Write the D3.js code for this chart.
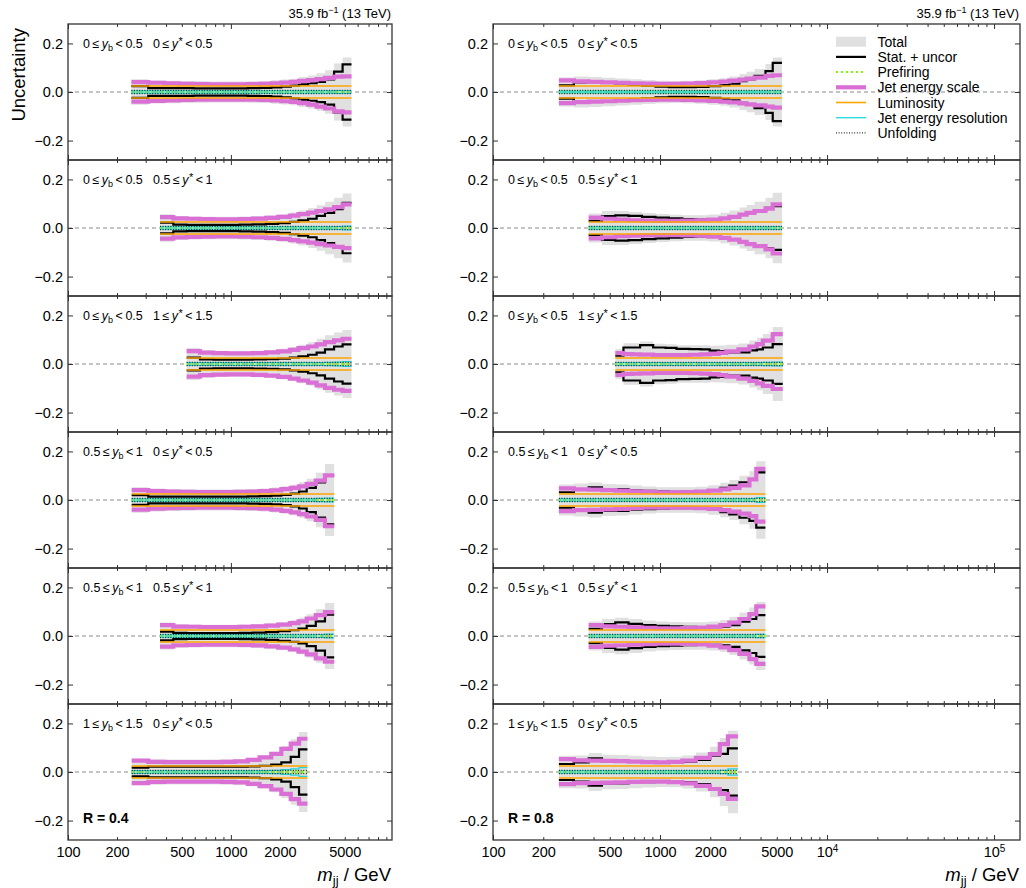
<!DOCTYPE html>
<html><head><meta charset="utf-8">
<script src="https://cdn.jsdelivr.net/npm/d3@7"></script>
<style>
body{margin:0;background:#fff}
svg{display:block}
text{font-family:"Liberation Sans",Arial,Helvetica,sans-serif;fill:#000}
</style>
</head><body>
<svg id="c" width="1026" height="888"></svg>
<script>
// ---------------- DATA ----------------
const lumiUnc = 0.025, unfoldUnc = 0.007, prefireUnc = 0.003;
const ybRanges    = [["0","0.5"],["0","0.5"],["0","0.5"],["0.5","1"],["0.5","1"],["1","1.5"]];
const ystarRanges = [["0","0.5"],["0.5","1"],["1","1.5"],["0","0.5"],["0.5","1"],["0","0.5"]];
const legendLabels = ["Total","Stat. + uncor","Prefiring","Jet energy scale","Luminosity","Jet energy resolution","Unfolding"];
const xTickLabelsLeft  = [100,200,500,1000,2000,5000];
const xTickLabelsRight = [100,200,500,1000,2000,5000,10000,100000];
const yTickVals = [-0.2,0,0.2];

// R = 0.4 (left column)
const edgesL1 = [245,311,390,480,590,720,880,1060,1270,1500,1770,2040,2330,2620,2980,3360,3780,4300,4850,5500];
const statL1  = [0.024,0.016,0.016,0.016,0.015,0.015,0.015,0.015,0.016,0.017,0.019,0.022,0.026,0.031,0.036,0.042,0.052,0.084,0.114];
const jesUpL1 = [0.041,0.038,0.036,0.034,0.033,0.032,0.032,0.032,0.033,0.034,0.036,0.039,0.042,0.046,0.049,0.053,0.058,0.063,0.064];
const jesDnL1 = [-0.040,-0.037,-0.035,-0.033,-0.032,-0.031,-0.031,-0.031,-0.032,-0.033,-0.035,-0.038,-0.041,-0.046,-0.052,-0.060,-0.068,-0.080,-0.084];
const totalL1 = [0.053,0.047,0.046,0.045,0.044,0.043,0.043,0.043,0.044,0.045,0.048,0.051,0.055,0.062,0.068,0.077,0.090,0.117,0.142];
const jerL1   = [0.005,0.005,0.005,0.005,0.005,0.005,0.005,0.005,0.005,0.005,0.005,0.005,0.005,0.005,0.005,0.005,0.005,0.006,0.006];

const edgesL2 = [367,443,535,646,780,940,1130,1360,1640,1950,2300,2600,2980,3360,3780,4300,4850,5500];
const statL2  = [0.022,0.014,0.013,0.013,0.013,0.013,0.014,0.015,0.017,0.020,0.025,0.031,0.038,0.050,0.062,0.078,0.104];
const jesUpL2 = [0.045,0.040,0.038,0.037,0.036,0.036,0.037,0.039,0.042,0.046,0.051,0.057,0.063,0.070,0.077,0.086,0.097];
const jesDnL2 = [-0.044,-0.039,-0.037,-0.036,-0.035,-0.035,-0.036,-0.038,-0.041,-0.045,-0.050,-0.055,-0.060,-0.066,-0.072,-0.078,-0.083];
const totalL2 = [0.057,0.049,0.047,0.046,0.046,0.046,0.047,0.049,0.052,0.057,0.064,0.072,0.082,0.094,0.108,0.125,0.142];
const jerL2   = [0.005,0.005,0.005,0.005,0.005,0.005,0.005,0.005,0.005,0.005,0.005,0.005,0.005,0.005,0.005,0.006,0.008];

const edgesL3 = [535,646,780,940,1130,1360,1640,1950,2300,2600,2980,3360,3780,4300,4850,5500];
const statL3  = [0.026,0.019,0.018,0.018,0.018,0.019,0.020,0.022,0.026,0.031,0.038,0.047,0.060,0.072,0.081];
const jesUpL3 = [0.053,0.047,0.045,0.044,0.044,0.045,0.048,0.052,0.058,0.065,0.072,0.081,0.090,0.097,0.104];
const jesDnL3 = [-0.052,-0.046,-0.044,-0.043,-0.043,-0.045,-0.048,-0.053,-0.060,-0.068,-0.077,-0.088,-0.098,-0.106,-0.111];
const totalL3 = [0.066,0.057,0.054,0.053,0.053,0.055,0.058,0.063,0.070,0.079,0.090,0.104,0.118,0.130,0.140];
const jerL3   = [0.006,0.006,0.006,0.006,0.006,0.006,0.006,0.006,0.006,0.006,0.006,0.006,0.007,0.008,0.010];

const edgesL4 = [246,311,390,480,590,720,880,1060,1270,1500,1770,2040,2330,2620,2920,3320,3780,4306];
const statL4  = [0.020,0.014,0.014,0.014,0.014,0.014,0.014,0.014,0.015,0.016,0.018,0.021,0.026,0.035,0.050,0.072,0.100];
const jesUpL4 = [0.041,0.037,0.035,0.034,0.033,0.033,0.033,0.034,0.035,0.037,0.040,0.045,0.050,0.056,0.066,0.080,0.101];
const jesDnL4 = [-0.040,-0.036,-0.034,-0.033,-0.032,-0.032,-0.032,-0.033,-0.034,-0.036,-0.040,-0.045,-0.051,-0.058,-0.068,-0.082,-0.108];
const totalL4 = [0.053,0.047,0.045,0.044,0.043,0.043,0.043,0.044,0.045,0.047,0.051,0.057,0.063,0.073,0.088,0.112,0.148];
const jerL4   = [0.005,0.005,0.005,0.005,0.005,0.005,0.005,0.005,0.005,0.005,0.005,0.005,0.005,0.005,0.005,0.007,0.008];

const edgesL5 = [367,443,535,646,780,940,1130,1360,1640,1950,2300,2600,2920,3320,3780,4306];
const statL5  = [0.018,0.013,0.012,0.012,0.012,0.012,0.013,0.014,0.016,0.020,0.024,0.030,0.042,0.060,0.088];
const jesUpL5 = [0.045,0.039,0.038,0.037,0.037,0.037,0.038,0.040,0.043,0.047,0.053,0.060,0.072,0.086,0.098];
const jesDnL5 = [-0.044,-0.038,-0.037,-0.036,-0.036,-0.036,-0.037,-0.039,-0.043,-0.048,-0.055,-0.064,-0.076,-0.092,-0.106];
const totalL5 = [0.056,0.048,0.047,0.046,0.046,0.046,0.047,0.049,0.053,0.058,0.065,0.075,0.090,0.110,0.136];
const jerL5   = [0.005,0.005,0.005,0.005,0.005,0.005,0.005,0.005,0.005,0.005,0.005,0.005,0.005,0.006,0.008];

const edgesL6 = [246,311,390,480,590,720,880,1060,1270,1500,1770,2040,2330,2620,2950];
const statL6  = [0.018,0.022,0.022,0.022,0.022,0.022,0.022,0.022,0.023,0.025,0.030,0.040,0.062,0.093];
const jesUpL6 = [0.047,0.042,0.041,0.041,0.041,0.041,0.042,0.044,0.050,0.060,0.075,0.095,0.117,0.137];
const jesDnL6 = [-0.046,-0.041,-0.040,-0.040,-0.040,-0.040,-0.041,-0.043,-0.049,-0.058,-0.072,-0.090,-0.112,-0.130];
const totalL6 = [0.055,0.052,0.051,0.051,0.051,0.051,0.052,0.054,0.059,0.068,0.083,0.107,0.135,0.165];
const jerL6   = [0.006,0.005,0.005,0.005,0.005,0.005,0.005,0.005,0.005,0.006,0.007,0.010,0.013,0.018];

// R = 0.8 (right column)
const edgesR1 = [248,305,374,449,540,648,780,940,1130,1360,1640,1950,2300,2600,2990,3300,3680,4280,4730,5370];
const statR1  = [0.027,0.040,0.040,0.038,0.035,0.030,0.026,0.022,0.020,0.020,0.021,0.024,0.028,0.034,0.045,0.052,0.066,0.086,0.120];
const jesUpR1 = [0.048,0.044,0.042,0.040,0.038,0.036,0.035,0.034,0.034,0.035,0.037,0.040,0.043,0.047,0.051,0.055,0.059,0.066,0.069];
const jesDnR1 = [-0.046,-0.042,-0.040,-0.038,-0.036,-0.034,-0.033,-0.032,-0.032,-0.033,-0.035,-0.037,-0.040,-0.043,-0.047,-0.051,-0.055,-0.060,-0.064];
const totalR1 = [0.060,0.064,0.062,0.059,0.056,0.052,0.049,0.046,0.045,0.046,0.048,0.052,0.057,0.064,0.074,0.083,0.095,0.115,0.142];
const jerR1   = [0.004,0.004,0.004,0.004,0.004,0.004,0.004,0.004,0.004,0.004,0.004,0.004,0.004,0.004,0.004,0.004,0.004,0.005,0.005];

const edgesR2 = [374,449,540,648,780,940,1130,1360,1640,1950,2300,2600,2990,3300,3680,4280,4730,5370];
const statR2  = [0.029,0.049,0.052,0.050,0.046,0.043,0.040,0.037,0.035,0.036,0.040,0.047,0.056,0.063,0.072,0.083,0.090];
const jesUpR2 = [0.043,0.038,0.035,0.032,0.030,0.029,0.029,0.030,0.032,0.035,0.040,0.046,0.055,0.062,0.070,0.080,0.097];
const jesDnR2 = [-0.043,-0.038,-0.034,-0.032,-0.030,-0.029,-0.029,-0.030,-0.032,-0.036,-0.041,-0.048,-0.057,-0.066,-0.075,-0.088,-0.105];
const totalR2 = [0.060,0.070,0.070,0.066,0.062,0.058,0.055,0.053,0.053,0.056,0.063,0.072,0.084,0.095,0.108,0.125,0.145];
const jerR2   = [0.005,0.005,0.005,0.005,0.005,0.005,0.005,0.005,0.005,0.005,0.005,0.005,0.005,0.005,0.005,0.005,0.006];

const edgesR3 = [540,604,680,760,910,1080,1255,1500,1750,1985,2250,2494,2950,3430,3800,4128,4728,5430];
const statR3  = [0.034,0.068,0.068,0.078,0.068,0.066,0.062,0.061,0.060,0.055,0.053,0.048,0.048,0.056,0.060,0.068,0.082];
const jesUpR3 = [0.045,0.041,0.040,0.039,0.037,0.037,0.037,0.038,0.040,0.042,0.046,0.052,0.060,0.072,0.082,0.096,0.123];
const jesDnR3 = [-0.045,-0.041,-0.040,-0.039,-0.037,-0.037,-0.037,-0.038,-0.040,-0.042,-0.046,-0.052,-0.060,-0.070,-0.080,-0.090,-0.103];
const totalR3 = [0.062,0.085,0.085,0.093,0.083,0.081,0.077,0.077,0.077,0.075,0.076,0.079,0.084,0.097,0.108,0.124,0.152];
const jerR3   = [0.006,0.006,0.006,0.006,0.006,0.006,0.006,0.006,0.006,0.006,0.006,0.006,0.006,0.006,0.006,0.007,0.008];

const edgesR4 = [248,305,374,449,540,648,780,940,1130,1360,1640,1950,2300,2600,2990,3430,3770,4276];
const statR4  = [0.032,0.045,0.052,0.045,0.045,0.040,0.038,0.036,0.034,0.034,0.035,0.040,0.050,0.059,0.073,0.086,0.114];
const jesUpR4 = [0.048,0.044,0.043,0.041,0.039,0.036,0.034,0.032,0.032,0.033,0.035,0.039,0.044,0.050,0.060,0.085,0.128];
const jesDnR4 = [-0.046,-0.042,-0.041,-0.039,-0.037,-0.034,-0.032,-0.031,-0.031,-0.032,-0.034,-0.037,-0.042,-0.048,-0.056,-0.066,-0.089];
const totalR4 = [0.064,0.068,0.072,0.066,0.064,0.060,0.056,0.053,0.052,0.053,0.055,0.061,0.071,0.082,0.100,0.118,0.160];
const jerR4   = [0.005,0.005,0.005,0.005,0.005,0.005,0.005,0.005,0.005,0.005,0.005,0.005,0.005,0.005,0.005,0.006,0.010];

const edgesR5 = [374,449,540,648,780,940,1130,1360,1640,1950,2300,2600,2990,3430,3770,4276];
const statR5  = [0.029,0.049,0.056,0.050,0.045,0.042,0.040,0.038,0.036,0.036,0.038,0.045,0.059,0.070,0.086];
const jesUpR5 = [0.045,0.040,0.038,0.036,0.034,0.032,0.032,0.033,0.035,0.039,0.045,0.055,0.070,0.090,0.122];
const jesDnR5 = [-0.045,-0.040,-0.038,-0.036,-0.034,-0.032,-0.032,-0.033,-0.035,-0.040,-0.047,-0.058,-0.074,-0.095,-0.115];
const totalR5 = [0.060,0.070,0.075,0.070,0.064,0.060,0.058,0.057,0.057,0.060,0.066,0.078,0.097,0.117,0.140];
const jerR5   = [0.005,0.005,0.005,0.005,0.005,0.005,0.005,0.005,0.005,0.005,0.005,0.005,0.005,0.005,0.007];

const edgesR6 = [248,305,374,449,540,648,780,940,1130,1360,1640,1990,2280,2550,2926];
const statR6  = [0.033,0.040,0.056,0.047,0.047,0.045,0.042,0.040,0.040,0.042,0.050,0.067,0.075,0.097];
const jesUpR6 = [0.053,0.048,0.047,0.046,0.045,0.043,0.041,0.040,0.042,0.047,0.058,0.074,0.115,0.147];
const jesDnR6 = [-0.050,-0.046,-0.045,-0.044,-0.043,-0.041,-0.040,-0.040,-0.042,-0.047,-0.057,-0.070,-0.090,-0.111];
const totalR6 = [0.067,0.068,0.078,0.071,0.070,0.067,0.064,0.062,0.063,0.068,0.080,0.104,0.140,0.170];
const jerR6   = [0.005,0.005,0.005,0.005,0.005,0.005,0.005,0.005,0.005,0.005,0.005,0.005,0.007,0.013];

// ---------------- LAYOUT ----------------
const panels = [
  {col:0,row:0,edges:edgesL1,stat:statL1,jesUp:jesUpL1,jesDn:jesDnL1,total:totalL1,jer:jerL1},
  {col:0,row:1,edges:edgesL2,stat:statL2,jesUp:jesUpL2,jesDn:jesDnL2,total:totalL2,jer:jerL2},
  {col:0,row:2,edges:edgesL3,stat:statL3,jesUp:jesUpL3,jesDn:jesDnL3,total:totalL3,jer:jerL3},
  {col:0,row:3,edges:edgesL4,stat:statL4,jesUp:jesUpL4,jesDn:jesDnL4,total:totalL4,jer:jerL4},
  {col:0,row:4,edges:edgesL5,stat:statL5,jesUp:jesUpL5,jesDn:jesDnL5,total:totalL5,jer:jerL5},
  {col:0,row:5,edges:edgesL6,stat:statL6,jesUp:jesUpL6,jesDn:jesDnL6,total:totalL6,jer:jerL6},
  {col:1,row:0,edges:edgesR1,stat:statR1,jesUp:jesUpR1,jesDn:jesDnR1,total:totalR1,jer:jerR1},
  {col:1,row:1,edges:edgesR2,stat:statR2,jesUp:jesUpR2,jesDn:jesDnR2,total:totalR2,jer:jerR2},
  {col:1,row:2,edges:edgesR3,stat:statR3,jesUp:jesUpR3,jesDn:jesDnR3,total:totalR3,jer:jerR3},
  {col:1,row:3,edges:edgesR4,stat:statR4,jesUp:jesUpR4,jesDn:jesDnR4,total:totalR4,jer:jerR4},
  {col:1,row:4,edges:edgesR5,stat:statR5,jesUp:jesUpR5,jesDn:jesDnR5,total:totalR5,jer:jerR5},
  {col:1,row:5,edges:edgesR6,stat:statR6,jesUp:jesUpR6,jesDn:jesDnR6,total:totalR6,jer:jerR6}
];

const cols = [
  {x0:68, x1:392, dom:[100, 9750], ticksLab:xTickLabelsLeft, R:"R = 0.4"},
  {x0:493, x1:1020, dom:[100, 143000], ticksLab:xTickLabelsRight, R:"R = 0.8"}
];
const TOP = 24, PH = 136, NROW = 6;
const FONT = '"Liberation Sans",Arial,Helvetica,sans-serif';

const C = {
  total:"#e0e0e0", stat:"#000000", pref:"#7cfc00", jes:"#da70d6",
  lumi:"#ffa500", jer:"#1fd8d8", unf:"#000000", frame:"#333333", zero:"#8a8a8a"
};

const svg = d3.select("#c");
const defs = svg.append("defs");

cols.forEach(c => { c.x = d3.scaleLog().domain(c.dom).range([c.x0, c.x1]); });

function stepPts(edges, vals, sign) {
  return edges.map((e,i) => [e, sign * vals[Math.min(i, vals.length-1)]]);
}
function constPts(edges, v) { return edges.map(e => [e, v]); }

panels.forEach((p, idx) => {
  const c = cols[p.col];
  const x = c.x;
  const yTop = TOP + PH*p.row, yBot = yTop + PH;
  const y = d3.scaleLinear().domain([-0.28, 0.28]).range([yBot, yTop]);
  const clipId = "clip" + idx;
  defs.append("clipPath").attr("id", clipId).append("rect")
      .attr("x", c.x0).attr("y", yTop).attr("width", c.x1-c.x0).attr("height", PH);
  const g = svg.append("g").attr("clip-path", `url(#${clipId})`);

  const line = d3.line().x(d => x(d[0])).y(d => y(d[1])).curve(d3.curveStepAfter);
  const area = d3.area().x(d => x(d[0])).y0(d => y(-d[1])).y1(d => y(d[1])).curve(d3.curveStepAfter);

  // total band
  g.append("path").datum(stepPts(p.edges, p.total, 1)).attr("d", area).attr("fill", C.total);
  // zero line
  g.append("line").attr("x1", c.x0).attr("x2", c.x1).attr("y1", y(0)).attr("y2", y(0))
    .attr("stroke", C.zero).attr("stroke-width", 1.2).attr("stroke-dasharray", "4,3");
  // stat
  [1,-1].forEach(s => g.append("path").datum(stepPts(p.edges, p.stat, s)).attr("d", line)
    .attr("fill","none").attr("stroke", C.stat).attr("stroke-width", 2.2));
  // prefiring
  [1,-1].forEach(s => g.append("path").datum(constPts(p.edges, s*prefireUnc)).attr("d", line)
    .attr("fill","none").attr("stroke", C.pref).attr("stroke-width", 2).attr("stroke-dasharray","2,3"));
  // JES
  g.append("path").datum(stepPts(p.edges, p.jesUp, 1)).attr("d", line)
    .attr("fill","none").attr("stroke", C.jes).attr("stroke-width", 4.2);
  g.append("path").datum(stepPts(p.edges, p.jesDn, 1)).attr("d", line)
    .attr("fill","none").attr("stroke", C.jes).attr("stroke-width", 4.2);
  // luminosity
  [1,-1].forEach(s => g.append("path").datum(constPts(p.edges, s*lumiUnc)).attr("d", line)
    .attr("fill","none").attr("stroke", C.lumi).attr("stroke-width", 1.6));
  // JER
  [1,-1].forEach(s => g.append("path").datum(stepPts(p.edges, p.jer, s)).attr("d", line)
    .attr("fill","none").attr("stroke", C.jer).attr("stroke-width", 1.3));
  // unfolding
  [1,-1].forEach(s => g.append("path").datum(constPts(p.edges, s*unfoldUnc)).attr("d", line)
    .attr("fill","none").attr("stroke", C.unf).attr("stroke-width", 1).attr("stroke-dasharray","1,1.6"));

  // ---- axes / ticks ----
  const lo = Math.log10(c.dom[0]), hi = Math.log10(c.dom[1]);
  const majors = [], minors = [];
  for (let e = Math.floor(lo); e <= Math.ceil(hi); e++) {
    for (let k = 1; k <= 9; k++) {
      const v = k * Math.pow(10, e);
      if (v < c.dom[0] - 1e-9 || v > c.dom[1]) continue;
      (k === 1 ? majors : minors).push(v);
    }
  }
  const styleAxis = sel => { sel.select(".domain").remove(); sel.selectAll("line").attr("stroke", C.frame).attr("stroke-width", 1); };
  svg.append("g").attr("transform", `translate(0,${yBot})`)
    .call(d3.axisBottom(x).tickValues(majors).tickSize(-5).tickFormat("")).call(styleAxis);
  svg.append("g").attr("transform", `translate(0,${yBot})`)
    .call(d3.axisBottom(x).tickValues(minors).tickSize(-3).tickFormat("")).call(styleAxis);
  svg.append("g").attr("transform", `translate(0,${yTop})`)
    .call(d3.axisTop(x).tickValues(majors).tickSize(-5).tickFormat("")).call(styleAxis);
  svg.append("g").attr("transform", `translate(0,${yTop})`)
    .call(d3.axisTop(x).tickValues(minors).tickSize(-3).tickFormat("")).call(styleAxis);

  const yfmt = d => d === 0 ? "0.0" : (d < 0 ? "\u2212" : "") + Math.abs(d).toFixed(1);
  const ly = svg.append("g").attr("transform", `translate(${c.x0},0)`)
    .call(d3.axisLeft(y).tickValues(yTickVals).tickSize(-5).tickPadding(5).tickFormat(yfmt)).call(styleAxis);
  ly.attr("font-family", FONT).attr("font-size", 14.5);
  ly.selectAll("text").attr("fill", "#000");
  svg.append("g").attr("transform", `translate(${c.x1},0)`)
    .call(d3.axisRight(y).tickValues(yTickVals).tickSize(-5).tickFormat("")).call(styleAxis);

  // frame
  svg.append("rect").attr("x", c.x0).attr("y", yTop).attr("width", c.x1-c.x0).attr("height", PH)
    .attr("fill","none").attr("stroke", C.frame).attr("stroke-width", 1.3);

  // bin label
  const lt = svg.append("text").attr("x", c.x0 + 15).attr("y", yTop + 23.5)
    .attr("font-size", 12.5);
  const yb = ybRanges[p.row], ys = ystarRanges[p.row];
  lt.append("tspan").text(`${yb[0]}\u2009\u2264\u2009`);
  lt.append("tspan").attr("font-style","italic").text("y");
  lt.append("tspan").attr("font-size", 9).attr("dy", 3).text("b");
  lt.append("tspan").attr("dy", -3).text(`\u2009<\u2009${yb[1]}`);
  const lt2 = svg.append("text").attr("x", c.x0 + 85).attr("y", yTop + 23.5).attr("font-size", 12.5);
  lt2.append("tspan").text(`${ys[0]}\u2009\u2264\u2009`);
  lt2.append("tspan").attr("font-style","italic").text("y");
  lt2.append("tspan").attr("font-size", 11).attr("dy", -3).attr("dx", 0.5).text("*");
  lt2.append("tspan").attr("dy", 3).text(`\u2009<\u2009${ys[1]}`);

  if (p.row === NROW - 1) {
    const ax = svg.append("g").attr("transform", `translate(0,${yBot})`)
      .call(d3.axisBottom(x).tickValues(c.ticksLab).tickSize(0).tickPadding(6.5)
        .tickFormat(d => d >= 10000 ? "10" : String(d)));
    ax.select(".domain").remove();
    ax.attr("font-family", FONT).attr("font-size", 14.5);
    ax.selectAll("text").attr("fill","#000").each(function(d) {
      if (d >= 10000) {
        d3.select(this).append("tspan").attr("font-size", 10).attr("dy", "-0.5em")
          .text(String(Math.round(Math.log10(d))));
      }
    });
    svg.append("text").attr("x", c.x0 + 15).attr("y", yBot - 17).attr("font-size", 14)
      .attr("font-weight","bold").text(c.R);
    const xl = svg.append("text").attr("x", c.x1 - 1).attr("y", 881).attr("text-anchor","end").attr("font-size", 18.5);
    xl.append("tspan").attr("font-style","italic").text("m");
    xl.append("tspan").attr("font-size", 13).attr("dy", 4).text("jj");
    xl.append("tspan").attr("dy", -4).text(" / GeV");
  }
  if (p.row === 0) {
    const tl = svg.append("text").attr("x", c.x1 - 1).attr("y", 18).attr("text-anchor","end").attr("font-size", 13);
    tl.append("tspan").text("35.9 fb");
    tl.append("tspan").attr("font-size", 9).attr("dy", -5).text("\u22121");
    tl.append("tspan").attr("dy", 5).text(" (13 TeV)");
  }
});

// y label
svg.append("text").attr("transform", "translate(25,28) rotate(-90)").attr("text-anchor","end")
  .attr("font-size", 18.5).text("Uncertainty");

// legend
const lg = svg.append("g").attr("transform", "translate(836,0)");
const rowsY = legendLabels.map((_, i) => 41.7 + 15.2 * i);
legendLabels.forEach((lab, i) => {
  const yy = rowsY[i];
  if (i === 0) lg.append("rect").attr("x", 0).attr("y", yy - 5).attr("width", 30).attr("height", 10).attr("fill", C.total);
  else {
    const st = [null,
      {c:C.stat, w:2.2, d:null},
      {c:C.pref, w:2, d:"2,3"},
      {c:C.jes, w:4.2, d:null},
      {c:C.lumi, w:1.6, d:null},
      {c:C.jer, w:1.3, d:null},
      {c:C.unf, w:1, d:"1,1.6"}][i];
    lg.append("line").attr("x1", 0).attr("x2", 30).attr("y1", yy).attr("y2", yy)
      .attr("stroke", st.c).attr("stroke-width", st.w).attr("stroke-dasharray", st.d);
  }
  lg.append("text").attr("x", 41.5).attr("y", yy + 5).attr("font-size", 14).text(lab);
});
</script>
</body></html>
